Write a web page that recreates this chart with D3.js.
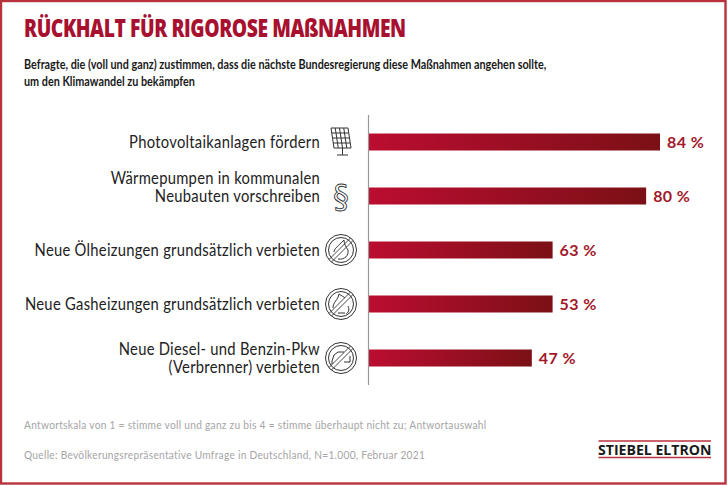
<!DOCTYPE html>
<html>
<head>
<meta charset="utf-8">
<script src="https://cdnjs.cloudflare.com/ajax/libs/d3/7.8.5/d3.min.js"></script>
<style>
html,body{margin:0;padding:0;background:#fff;}
svg{display:block;}
text{font-family:Lato,"Noto Sans",sans-serif;}
</style>
</head>
<body>
<div class="canvas"></div>
<script>
//chart data
var categories = ['pv','wp','oel','gas','pkw'];
var labelLines = [
    ['Photovoltaikanlagen fördern'],
    ['Wärmepumpen in kommunalen','Neubauten vorschreiben'],
    ['Neue Ölheizungen grundsätzlich verbieten'],
    ['Neue Gasheizungen grundsätzlich verbieten'],
    ['Neue Diesel- und Benzin-Pkw','(Verbrenner) verbieten']
];
var valueLabels = [84,80,63,53,47];
//the 63 % bar is only as long as the 53 % one in the original, so lengths are kept apart
var barLengths = [84,80,53,53,47];

var titleText = 'RÜCKHALT FÜR RIGOROSE MAßNAHMEN';
var subtitleLines = [
    'Befragte, die (voll und ganz) zustimmen, dass die nächste Bundesregierung diese Maßnahmen angehen sollte,',
    'um den Klimawandel zu bekämpfen'
];
var noteText = 'Antwortskala von 1 = stimme voll und ganz zu bis 4 = stimme überhaupt nicht zu; Antwortauswahl';
var sourceText = 'Quelle: Bevölkerungsrepräsentative Umfrage in Deutschland, N=1.000, Februar 2021';
var logoText = 'STIEBEL ELTRON';

var width = 728, height = 486;
var red = '#a8102f', darkRed = '#a3182a', gray = '#a5a5a5';

var svg = d3.select('.canvas')
    .append('svg')
    .attr('width', width)
    .attr('height', height);

//the source type is condensed, so squeeze the text horizontally
function squeeze(px, py, sx){
    return 'translate('+px+','+py+') scale('+sx+',1)';
}

//frame
svg.append('rect')
    .attr('x',1).attr('y',1)
    .attr('width',724.5).attr('height',482.5)
    .attr('fill','#fff')
    .attr('stroke','#b8323c')
    .attr('stroke-width',2.4);

//title block
svg.append('text')
    .attr('transform',squeeze(24,37,0.772))
    .attr('font-size',25)
    .attr('font-weight',800)
    .attr('letter-spacing',-0.55)
    .style('font-family','"Open Sans"')
    .attr('fill',red)
    .text(titleText);

svg.selectAll('.sub')
    .data(subtitleLines)
    .enter().append('text')
    .attr('class','sub')
    .attr('transform',function(d,i){return squeeze(24,69 + i*17,0.866);})
    .attr('font-size',12.5)
    .attr('font-weight',700)
    .attr('fill','#1a1a1a')
    .text(function(d){return d;});

//scales
var x = d3.scaleLinear().domain([0,84]).range([369,660]);
var y = d3.scaleBand()
    .domain(categories)
    .range([115,385])
    .paddingInner(37/54)
    .paddingOuter(18.5/54);

//bar gradient
var grad = svg.append('defs').append('linearGradient').attr('id','barGrad');
grad.append('stop').attr('offset','0%').attr('stop-color','#bb0d30');
grad.append('stop').attr('offset','100%').attr('stop-color','#7b1016');

svg.selectAll('.bar')
    .data(categories)
    .enter().append('rect')
    .attr('class','bar')
    .attr('x',x(0))
    .attr('y',function(d){return y(d);})
    .attr('width',function(d,i){return x(barLengths[i]) - x(0);})
    .attr('height',y.bandwidth())
    .attr('fill','url(#barGrad)');

//baseline
svg.append('line')
    .attr('x1',368.5).attr('x2',368.5)
    .attr('y1',y.range()[0]).attr('y2',y.range()[1])
    .attr('stroke','#999')
    .attr('stroke-width',1.2);

//category labels, the Wärmepumpen one has its last line level with the bar
var labels = svg.selectAll('.label')
    .data(categories)
    .enter().append('text')
    .attr('class','label')
    .attr('transform',squeeze(320,0,0.896))
    .attr('text-anchor','end')
    .attr('font-size',16.5)
    .attr('letter-spacing',0.3)
    .attr('fill','#222');

labels.selectAll('tspan')
    .data(function(d,i){
        return labelLines[i].map(function(t,j){
            return {t:t, j:j, n:labelLines[i].length, c:d};
        });
    })
    .enter().append('tspan')
    .attr('x',0)
    .attr('y',function(d){
        var mid = y(d.c) + y.bandwidth()/2 + 6;
        if(d.n == 1) return mid;
        if(d.c == 'wp') return mid + (d.j - 1)*18;
        return mid + (d.j - 0.5)*18;
    })
    .text(function(d){return d.t;});

//value labels
svg.selectAll('.val')
    .data(categories)
    .enter().append('text')
    .attr('class','val')
    .attr('x',function(d,i){return x(barLengths[i]) + 7;})
    .attr('y',function(d){return y(d) + y.bandwidth()/2 + 6;})
    .attr('font-size',16)
    .attr('font-weight',700)
    .attr('letter-spacing',0.4)
    .attr('fill',darkRed)
    .text(function(d,i){return valueLabels[i] + ' %';});

//icons
function icon(c){
    return svg.append('g')
        .attr('transform','translate(341,'+(y(c) + y.bandwidth()/2)+')')
        .attr('fill','none')
        .attr('stroke','#333')
        .attr('stroke-width',1);
}

function forbidden(g){
    g.append('circle').attr('r',15.5);
    g.append('circle').attr('r',12.5);
    g.append('path').attr('d','M-12,9.5L9.5,-12M-9.5,12L12,-9.5').attr('stroke-width',0.9);
}

//solar panel
var pv = icon('pv');
pv.append('path').attr('d','M-10,-14H7L10,6H-7Z');
[1,2,3].forEach(function(k){
    pv.append('line')
        .attr('x1',-10 + 4.25*k).attr('y1',-14)
        .attr('x2',-7 + 4.25*k).attr('y2',6);
});
[-9,-4,1].forEach(function(t){
    pv.append('line')
        .attr('x1',-10 + (t+14)*0.15).attr('y1',t)
        .attr('x2',7 + (t+14)*0.15).attr('y2',t);
});
pv.append('path').attr('d','M1.5,6V13M-4,13H7');

//paragraph sign
icon('wp').append('text')
    .attr('text-anchor','middle')
    .attr('y',11)
    .attr('font-size',32)
    .style('font-family','"DejaVu Sans"')
    .attr('fill','#fff')
    .attr('stroke','#333')
    .attr('stroke-width',0.9)
    .text('§');

//oil drop
var oel = icon('oel');
forbidden(oel);
oel.append('path').attr('d','M3,-10C-3,-4 -7,-1 -7,2M3,-10C3,-6 5,-3 7,0C8,5 4,10 -3,9');

//gas flame
var gas = icon('gas');
forbidden(gas);
gas.append('path').attr('d','M-8,4C-8,-2 -3,-4 -2,-10C1,-8 3,-7 4,-6M7,2C9,6 7,9 5,10M-3,9H4');

//car
var pkw = icon('pkw');
forbidden(pkw);
pkw.append('path').attr('d','M-9,3L-7,-3L-3,-6H3M9,-2V4H3M-9,3V6');

//footnotes
[[noteText,429],[sourceText,459]].forEach(function(d){
    svg.append('text')
        .attr('transform',squeeze(24,d[1],0.85))
        .attr('font-size',12)
        .attr('letter-spacing',0.32)
        .attr('fill',gray)
        .text(d[0]);
});

//logo
[441,457.5].forEach(function(v){
    svg.append('line')
        .attr('x1',598.5).attr('x2',711)
        .attr('y1',v).attr('y2',v)
        .attr('stroke','#b8323c')
        .attr('stroke-width',1.6);
});
svg.append('text')
    .attr('transform',squeeze(598,455,0.94))
    .attr('font-size',15)
    .attr('font-weight',700)
    .style('font-family','"Open Sans"')
    .attr('fill','#1a1a1a')
    .text(logoText);
</script>
</body>
</html>
